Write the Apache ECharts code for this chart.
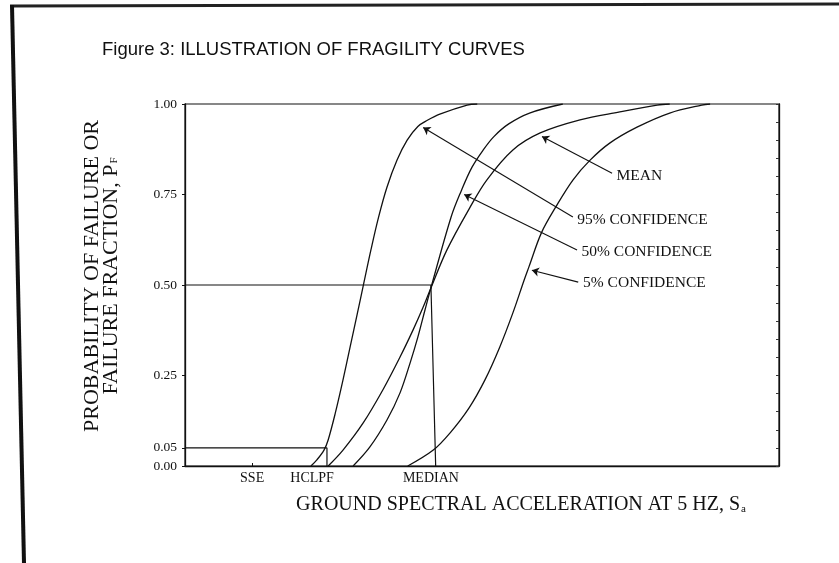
<!DOCTYPE html>
<html>
<head>
<meta charset="utf-8">
<title>Fragility curves</title>
<script src="https://cdn.jsdelivr.net/npm/echarts@6/dist/echarts.min.js"></script>
<style>
html, body { margin: 0; padding: 0; background: #fff; }
#main { width: 839px; height: 563px; }
</style>
</head>
<body>
<div id="main"></div>
<script>
// curves as [acceleration, Pf]; the x axis has no numbers, so 0..100 relative units
var curve95 = [[21.2,0],[22.2,0.017],[23.4,0.044],[24.1,0.072],[25.3,0.146],[26.6,0.238],[27.8,0.329],[29.0,0.420],[30.1,0.505],[31.3,0.597],[32.6,0.688],[34.0,0.770],[35.7,0.845],[37.4,0.900],[39.2,0.938],[40.8,0.955],[42.9,0.972],[47.5,0.997],[49.2,1]];
var curveMean = [[24.1,0],[26.6,0.044],[30.0,0.119],[33.3,0.210],[36.2,0.301],[38.4,0.376],[40.1,0.439],[41.4,0.492],[44.1,0.597],[48.0,0.715],[50.8,0.790],[55.2,0.873],[59.8,0.920],[66.5,0.956],[73.2,0.978],[79.5,0.997],[81.6,1]];
var curve50 = [[28.3,0],[31.1,0.052],[34.0,0.127],[36.2,0.202],[37.9,0.285],[39.2,0.356],[40.4,0.431],[41.4,0.492],[44.8,0.688],[46.5,0.760],[48.3,0.825],[50.2,0.873],[52.0,0.910],[54.5,0.945],[58.0,0.975],[63.6,1]];
var curve5 = [[37.5,0],[41.8,0.044],[44.6,0.091],[47.8,0.160],[50.5,0.238],[53.0,0.329],[55.2,0.423],[57.1,0.514],[57.9,0.550],[60.0,0.644],[62.4,0.715],[65.3,0.790],[68.2,0.845],[71.5,0.892],[76.1,0.936],[81.6,0.975],[87.0,0.997],[88.4,1]];

// guide lines: HCLPF at Pf = 0.05, MEDIAN at Pf = 0.5
var hclpfLine = [[0,0.05],[23.9,0.05],[23.9,0]];
var medianLine = [[0,0.5],[41.4,0.5],[42.2,0]];

// arrow callouts
var arrowNames = ['MEAN', '95% CONFIDENCE', '50% CONFIDENCE', '5% CONFIDENCE'];
var arrowFrom = [[71.9,0.809],[65.3,0.688],[66.0,0.597],[66.2,0.508]];
var arrowTo = [[60.1,0.91],[40.1,0.935],[47.0,0.75],[58.4,0.541]];

// axis labels
var yLabels = [0, 0.05, 0.25, 0.5, 0.75, 1];
var xLabelNames = ['SSE', 'HCLPF', 'MEDIAN'];
var xLabelPos = [11.3, 21.4, 41.4];
var sseTick = [11.3];

var serif = '"Liberation Serif", "DejaVu Serif", serif';
var ink = '#111';

var chart = echarts.init(document.getElementById('main'));

var curveSeries = function(data){
    return {
        type: 'line',
        data: data,
        smooth: 0.35,
        showSymbol: false,
        lineStyle: { color: ink, width: 1.3 },
        silent: true
    };
};
var guideSeries = function(data){
    return {
        type: 'line',
        data: data,
        showSymbol: false,
        lineStyle: { color: ink, width: 1.2 },
        silent: true
    };
};

var arrowData = [];
for (var i = 0; i < arrowNames.length; i++) {
    arrowData.push([
        { coord: arrowFrom[i], name: arrowNames[i] },
        { coord: arrowTo[i] }
    ]);
}

var option = {
    backgroundColor: '#fff',
    animation: false,
    title: {
        text: 'Figure 3: ILLUSTRATION OF FRAGILITY CURVES',
        left: 97,
        top: 35,
        textStyle: { fontFamily: '"Liberation Sans", Arial, sans-serif', fontSize: 18.5, fontWeight: 'normal', color: ink }
    },
    grid: {
        left: 185, right: 60, top: 104, bottom: 97,
        show: true, borderColor: ink, borderWidth: 1.2
    },
    xAxis: {
        type: 'value',
        min: 0, max: 100,
        splitLine: { show: false },
        axisLine: { show: true, lineStyle: { color: ink, width: 1.3 } },
        axisTick: { show: true, inside: true, length: 3, customValues: sseTick, lineStyle: { color: ink } },
        axisLabel: {
            customValues: xLabelPos,
            margin: 5,
            fontFamily: serif, fontSize: 14, color: ink,
            formatter: function(v){
                var idx = xLabelPos.indexOf(v);
                return idx >= 0 ? xLabelNames[idx] : '';
            }
        },
        name: 'GROUND SPECTRAL ACCELERATION AT 5 HZ, S{sub|a}',
        nameLocation: 'middle',
        nameGap: 29,
        nameTextStyle: {
            fontFamily: serif, fontSize: 20, color: ink,
            padding: [0, 0, 0, 78],
            rich: { sub: { fontFamily: serif, fontSize: 11, color: ink, padding: [8, 0, 0, 1] } }
        }
    },
    yAxis: [{
        type: 'value',
        min: 0, max: 1, interval: 0.05,
        splitLine: { show: false },
        axisLine: { show: true, lineStyle: { color: ink, width: 1.3 } },
        axisTick: { show: true, length: 3, customValues: yLabels, lineStyle: { color: ink } },
        axisLabel: {
            customValues: yLabels,
            margin: 8,
            fontFamily: serif, fontSize: 13.5, color: ink,
            formatter: function(v){ return v.toFixed(2); }
        },
        name: 'PROBABILITY OF FAILURE OR\nFAILURE FRACTION, P{sub|F}',
        nameLocation: 'middle',
        nameRotate: 90,
        nameGap: 64,
        nameTextStyle: {
            fontFamily: serif, fontSize: 22, color: ink, lineHeight: 19,
            padding: [0, 0, 0, 18],
            rich: { sub: { fontFamily: serif, fontSize: 11, color: ink, lineHeight: 19, padding: [6, 0, 0, 1] } }
        }
    }, {
        // right frame with small inner ticks every 0.05
        type: 'value',
        position: 'right',
        min: 0, max: 1, interval: 0.05,
        splitLine: { show: false },
        axisLine: { show: true, lineStyle: { color: ink, width: 1.3 } },
        axisTick: { show: true, inside: true, length: 3, lineStyle: { color: '#333' } },
        axisLabel: { show: false }
    }],
    series: [
        curveSeries(curve95),
        curveSeries(curveMean),
        curveSeries(curve50),
        curveSeries(curve5),
        guideSeries(hclpfLine),
        guideSeries(medianLine),
        {
            type: 'line',
            data: [],
            markLine: {
                silent: true,
                animation: false,
                symbol: ['none', 'arrow'],
                symbolSize: 7,
                lineStyle: { type: 'solid', color: ink, width: 1.1 },
                label: {
                    show: true,
                    position: 'start',
                    distance: 5,
                    formatter: '{b}',
                    fontFamily: serif, fontSize: 15.5, color: ink
                },
                data: arrowData
            }
        }
    ],
    graphic: [
        // scanned page border
        { type: 'line', shape: { x1: 10, y1: 6, x2: 839, y2: 4 }, style: { stroke: '#222', lineWidth: 3 }, silent: true },
        { type: 'line', shape: { x1: 12, y1: 5, x2: 24, y2: 563 }, style: { stroke: '#111', lineWidth: 4 }, silent: true }
    ]
};

chart.setOption(option);
</script>
</body>
</html>
